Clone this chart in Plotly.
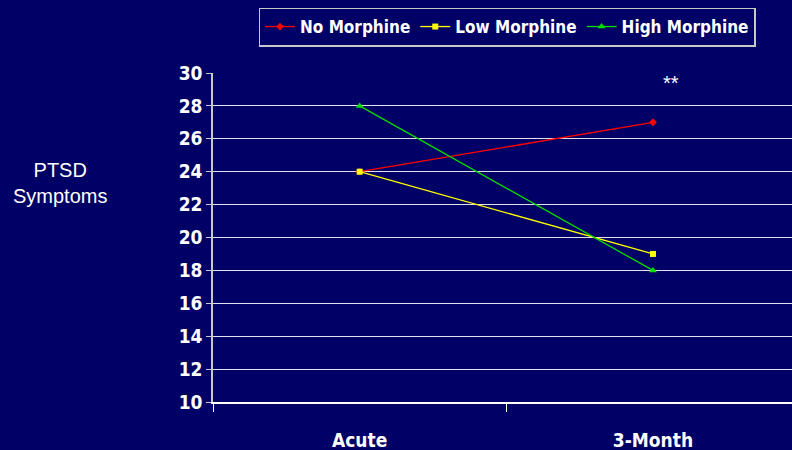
import plotly.graph_objects as go

# Time points and mean PTSD symptom scores per morphine group
timepoints = ["Acute", "3-Month"]
no_morphine = [24, 27]
low_morphine = [24, 19]
high_morphine = [28, 18]
y_ticks = list(range(10, 31, 2))

navy = "#000066"
font_bold = "Tahoma, 'DejaVu Sans Condensed', 'DejaVu Sans', sans-serif"

# plot area in pixels
L, R, T, B = 213, 792, 73, 402

fig = go.Figure()

series = [
    ("No Morphine", no_morphine, "#FF0000", "diamond", 6),
    ("Low Morphine", low_morphine, "#FFFF00", "square", 6),
    ("High Morphine", high_morphine, "#00DD00", "triangle-up", 7),
]
for name, vals, color, symbol, size in series:
    fig.add_trace(go.Scatter(
        x=timepoints, y=vals, name=name, mode="lines+markers",
        line=dict(color=color, width=1.3),
        marker=dict(symbol=symbol, size=size, color=color),
    ))

fig.add_annotation(
    x=1.06, y=29.4, xref="x", yref="y", text="**", showarrow=False,
    font=dict(family="Arial, Liberation Sans, sans-serif", size=20, color="white"),
)
fig.add_annotation(
    xref="paper", yref="paper",
    x=(60 - L) / (R - L), y=(B - 183) / (B - T),
    xanchor="center", yanchor="middle",
    text="PTSD<br>Symptoms", showarrow=False,
    font=dict(family="'Liberation Sans', Arial, sans-serif", size=20, color="white"),
)

fig.update_layout(
    width=792, height=450,
    margin=dict(l=L, r=792 - R, t=T, b=450 - B),
    paper_bgcolor=navy, plot_bgcolor=navy,
    showlegend=True,
    legend=dict(
        orientation="h", x=(507 - L) / (R - L), xanchor="center",
        y=1 + (T - 27) / (B - T), yanchor="middle",
        bgcolor=navy, bordercolor="#C8C8C8", borderwidth=1.5,
        font=dict(family=font_bold, size=17, color="white", weight="bold"),
        itemwidth=30, tracegroupgap=0,
    ),
    xaxis=dict(
        type="category", range=[-0.5, 1.474],
        tickson="boundaries", ticks="outside", ticklen=8, tickcolor="white",
        showgrid=False, showline=True, linecolor="white", linewidth=1.5,
        tickfont=dict(family=font_bold, size=19, color="white", weight="bold"),
        ticklabelstandoff=20, zeroline=False,
    ),
    yaxis=dict(
        range=[10, 30], tickvals=y_ticks, ticks="outside", ticklen=5,
        tickcolor="#C8C8C8", showgrid=True, gridcolor="#E0E0E8", gridwidth=1.2,
        showline=True, linecolor="#C8C8C8", linewidth=1.5, zeroline=False,
        tickfont=dict(family=font_bold, size=19, color="white", weight="bold"),
    ),
)

fig.write_html("out.html")
